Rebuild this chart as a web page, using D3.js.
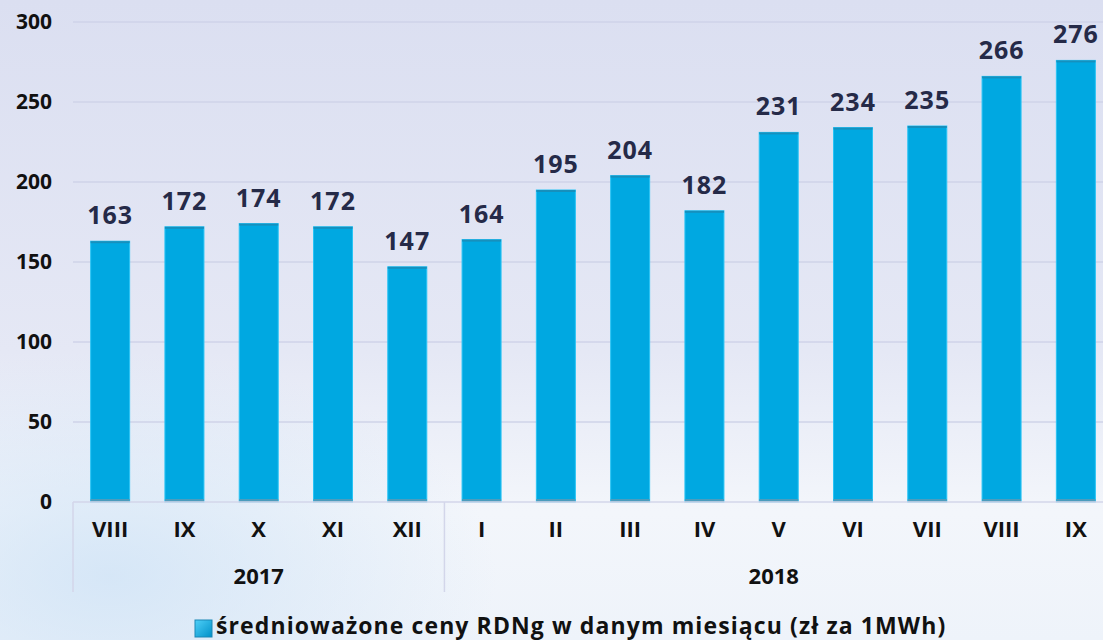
<!DOCTYPE html>
<html>
<head>
<meta charset="utf-8">
<script src="https://cdn.jsdelivr.net/npm/d3@7"></script>
<style>
  html, body { margin: 0; padding: 0; overflow: hidden; }
  svg { display: block; font-family: "Open Sans", sans-serif; font-weight: bold; }
</style>
</head>
<body>
<div id="container"></div>
<script>
const months = ["VIII", "IX", "X", "XI", "XII", "I", "II", "III", "IV", "V", "VI", "VII", "VIII", "IX"];
const years = ["2017", "2017", "2017", "2017", "2017", "2018", "2018", "2018", "2018", "2018", "2018", "2018", "2018", "2018"];
const prices = [163, 172, 174, 172, 147, 164, 195, 204, 182, 231, 234, 235, 266, 276];
const yTicks = [0, 50, 100, 150, 200, 250, 300];
const legendLabel = "średnioważone ceny RDNg w danym miesiącu (zł za 1MWh)";

const w = 1103, h = 640;
const plotLeft = 73, plotRight = 1113, plotTop = 22, plotBottom = 502;
const font = "Open Sans, sans-serif";

const svg = d3.select("#container").append("svg")
    .attr("width", w).attr("height", h);

const defs = svg.append("defs");
const bg = defs.append("linearGradient").attr("id", "bg")
    .attr("x1", 0).attr("y1", 0).attr("x2", 0).attr("y2", 1);
bg.append("stop").attr("offset", "0%").attr("stop-color", "#dbdff1");
bg.append("stop").attr("offset", "55%").attr("stop-color", "#e5e8f5");
bg.append("stop").attr("offset", "80%").attr("stop-color", "#f3f6fb");
bg.append("stop").attr("offset", "100%").attr("stop-color", "#eef3fa");

const glow = defs.append("radialGradient").attr("id", "glow")
    .attr("cx", 0.1).attr("cy", 0.9).attr("r", 0.35);
glow.append("stop").attr("offset", "0%").attr("stop-color", "#cfe3f6").attr("stop-opacity", 0.8);
glow.append("stop").attr("offset", "100%").attr("stop-color", "#cfe3f6").attr("stop-opacity", 0);

const legGrad = defs.append("linearGradient").attr("id", "legGrad")
    .attr("x1", 0).attr("y1", 0).attr("x2", 1).attr("y2", 1);
legGrad.append("stop").attr("offset", "0%").attr("stop-color", "#4fd0f8");
legGrad.append("stop").attr("offset", "100%").attr("stop-color", "#0090c8");

svg.append("rect").attr("width", w).attr("height", h).attr("fill", "url(#bg)");
svg.append("rect").attr("width", w).attr("height", h).attr("fill", "url(#glow)");

const x = d3.scaleBand()
    .domain(d3.range(months.length))
    .range([plotLeft, plotRight])
    .paddingInner(0.475)
    .paddingOuter(0.2375);

const y = d3.scaleLinear()
    .domain([0, 300])
    .range([plotBottom, plotTop]);

// gridlines
svg.append("g")
    .selectAll("line")
    .data(yTicks.slice(1))
    .enter().append("line")
    .attr("x1", plotLeft).attr("x2", w)
    .attr("y1", d => y(d)).attr("y2", d => y(d))
    .attr("stroke", "#cfd3e9").attr("stroke-width", 1.5);

// y axis labels
const yAxis = d3.axisLeft(y).tickValues(yTicks).tickSize(0).tickPadding(21);
svg.append("g")
    .attr("transform", "translate(" + plotLeft + ",0)")
    .call(yAxis)
    .call(g => g.select(".domain").remove())
    .selectAll("text")
    .attr("font-size", "21px")
    .attr("font-family", font)
    .attr("font-weight", "bold")
    .attr("fill", "#111");

// bars
const bars = svg.append("g");
bars.selectAll("rect.bar")
    .data(prices)
    .enter().append("rect")
    .attr("class", "bar")
    .attr("x", (d, i) => x(i))
    .attr("y", d => y(d))
    .attr("width", x.bandwidth())
    .attr("height", d => y(0) - y(d))
    .attr("fill", "#00a8e1")
    .attr("stroke", "#29c4f5")
    .attr("stroke-width", 1);

bars.selectAll("rect.topline")
    .data(prices)
    .enter().append("rect")
    .attr("class", "topline")
    .attr("x", (d, i) => x(i))
    .attr("y", d => y(d))
    .attr("width", x.bandwidth())
    .attr("height", 2)
    .attr("fill", "#1690bd");

bars.selectAll("rect.base")
    .data(prices)
    .enter().append("rect")
    .attr("class", "base")
    .attr("x", (d, i) => x(i))
    .attr("y", y(0) - 3)
    .attr("width", x.bandwidth())
    .attr("height", 3)
    .attr("fill", "#4b9cbd");

// value labels
svg.append("g")
    .selectAll("text")
    .data(prices)
    .enter().append("text")
    .attr("x", (d, i) => x(i) + x.bandwidth() / 2)
    .attr("y", d => y(d) - 17)
    .attr("text-anchor", "middle")
    .attr("font-size", "25px")
    .attr("letter-spacing", "1px")
    .attr("fill", "#252a48")
    .text(d => d);

// x axis line
svg.append("line")
    .attr("x1", plotLeft).attr("x2", w)
    .attr("y1", plotBottom).attr("y2", plotBottom)
    .attr("stroke", "#d3d6ea").attr("stroke-width", 1.5);

// month labels
const xAxis = d3.axisBottom(x).tickFormat(i => months[i]).tickSize(0).tickPadding(19);
svg.append("g")
    .attr("transform", "translate(0," + plotBottom + ")")
    .call(xAxis)
    .call(g => g.select(".domain").remove())
    .selectAll("text")
    .attr("font-size", "22px")
    .attr("font-family", font)
    .attr("font-weight", "bold")
    .attr("fill", "#111");

// year groups
const groups = d3.groups(d3.range(months.length), i => years[i]);
const step = x.step();
const groupBounds = groups.map(([yr, idx]) => ({
    year: yr,
    x0: x(idx[0]) - step * x.paddingInner() / 2,
    x1: x(idx[idx.length - 1]) + x.bandwidth() + step * x.paddingInner() / 2
}));
groupBounds[0].x0 = plotLeft;

svg.append("g")
    .selectAll("line")
    .data(groupBounds)
    .enter().append("line")
    .attr("x1", d => d.x0).attr("x2", d => d.x0)
    .attr("y1", plotBottom).attr("y2", 592)
    .attr("stroke", "#d3d6ea").attr("stroke-width", 1.5);

svg.append("g")
    .selectAll("text")
    .data(groupBounds)
    .enter().append("text")
    .attr("x", (d, i) => i === groupBounds.length - 1 ? (d.x0 + d.x1) / 2 - 5 : (d.x0 + d.x1) / 2)
    .attr("y", 584)
    .attr("text-anchor", "middle")
    .attr("font-size", "22px")
    .attr("fill", "#111")
    .text(d => d.year);

// legend
const legend = svg.append("g").attr("transform", "translate(195,620)");
legend.append("rect")
    .attr("width", 17).attr("height", 17)
    .attr("fill", "url(#legGrad)")
    .attr("stroke", "#1a87b5").attr("stroke-width", 1);
legend.append("text")
    .attr("x", 21).attr("y", 14)
    .attr("font-size", "23px")
    .attr("letter-spacing", "1.1px")
    .attr("fill", "#111")
    .text(legendLabel);
</script>
</body>
</html>
